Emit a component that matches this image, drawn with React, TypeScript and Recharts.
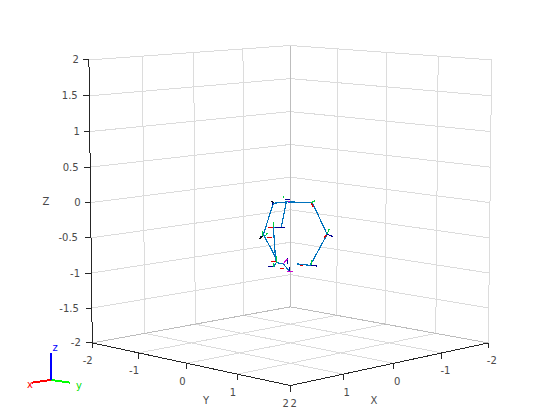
import { ComposedChart, Line, XAxis, YAxis, ReferenceDot } from 'recharts';

// axis ticks
const xTicks = [-2, -1, 0, 1, 2];
const yTicks = [-2, -1, 0, 1, 2];
const zTicks = [-2, -1.5, -1, -0.5, 0, 0.5, 1, 1.5, 2];

const xTickLabels = ['-2', '-1', '0', '1', '2'];
const yTickLabels = ['-2', '-1', '0', '1', '2'];
const zTickLabels = ['-2', '-1.5', '-1', '-0.5', '0', '0.5', '1', '1.5', '2'];

// skeleton chains, as [y, z] (x = -y)
const outerChain = [
  [0.07, -0.87], [0.2, -0.89], [0.37, -0.45], [0.22, 0], [-0.03, 0.01], [-0.17, -0.01],
  [-0.27, -0.45], [-0.15, -0.77],
];
const innerChain = [
  [-0.04, 0.01], [-0.07, -0.21], [-0.09, -0.35], [-0.17, -0.35], [-0.15, -0.76], [-0.14, -0.85],
  [-0.17, -0.92],
];
const tailChain = [[-0.14, -0.85], [-0.07, -0.87], [-0.01, -0.97]];

// little frames at every joint, as [y0, z0, y1, z1]
const redFrames = [
  [0.21, 0, 0.23, -0.06], [-0.17, -0.35, -0.22, -0.35], [-0.23, -0.5, -0.18, -0.5],
  [-0.19, -0.83, -0.14, -0.83], [-0.1, -0.93, -0.06, -0.93], [0.1, -0.89, 0.13, -0.89],
  [0.36, -0.46, 0.34, -0.5],
];
const greenFrames = [
  [-0.07, 0.1, -0.07, 0.06], [-0.18, 0.01, -0.17, -0.01], [0.21, 0, 0.25, 0.03],
  [0.37, -0.45, 0.39, -0.37], [0.21, -0.89, 0.21, -0.82], [-0.17, -0.35, -0.17, -0.28],
  [-0.28, -0.48, -0.28, -0.4], [-0.25, -0.47, -0.23, -0.43], [-0.14, -0.76, -0.14, -0.85],
  [-0.17, -0.85, -0.17, -0.92],
];
const navyFrames = [
  [-0.05, 0.04, 0, 0.04], [-0.18, 0.01, -0.18, -0.03], [0.37, -0.45, 0.43, -0.48],
  [0.21, -0.89, 0.27, -0.9], [-0.15, -0.35, -0.05, -0.35], [-0.3, -0.48, -0.27, -0.48],
  [-0.22, -0.91, -0.17, -0.91], [-0.03, -0.78, -0.03, -0.87], [-0.01, -0.92, -0.01, -0.97],
];
const blackFrames = [[-0.31, -0.52, -0.28, -0.47], [-0.19, 0.02, -0.16, 0.0]];
const magentaFrames = [
  [-0.03, -0.98, 0.03, -0.98], [-0.07, -0.87, -0.03, -0.8], [-0.02, 0.01, 0, 0.01],
];

// view: slight perspective, seen from the x=2, y=2 corner
const SIN_E = 0.138;
const COS_E = 0.99;
const DIST = 33.2;
const FOCAL = 2344;
const Z_STRETCH = 1.012;
const CX = 290.3;
const CY = 202.6;

type P3 = [number, number, number];

const project = ([x, y, z]: P3) => {
  const hh = (y - x) / Math.SQRT2;
  const dd = (x + y) / Math.SQRT2;
  const up = z * COS_E * Z_STRETCH - dd * SIN_E;
  const q = dd * COS_E + z * SIN_E;
  const s = FOCAL / (DIST - q);
  return { u: CX + s * hh, v: CY - s * up };
};

const projectTriad = ([x, y, z]: P3) => {
  const hh = (y - x) / Math.SQRT2;
  const dd = (x + y) / Math.SQRT2;
  return { u: 51 + 27 * hh, v: 380 - 27 * (z * COS_E - dd * SIN_E) };
};

const seg = (a: P3, b: P3) => [project(a), project(b)];
const chain3 = (pts: number[][]) => pts.map(([y, z]) => project([-y, y, z]));
const frame3 = ([y0, z0, y1, z1]: number[]) => chain3([[y0, z0], [y1, z1]]);

const inner = (t: number) => t > -2 && t < 2;

const gridSegs = [
  ...zTicks.filter(inner).flatMap((z) => [seg([2, -2, z], [-2, -2, z]), seg([-2, -2, z], [-2, 2, z])]),
  seg([2, -2, 2], [-2, -2, 2]),
  seg([-2, -2, 2], [-2, 2, 2]),
  ...xTicks.filter(inner).map((x) => seg([x, -2, -2], [x, -2, 2])),
  ...yTicks.filter(inner).map((y) => seg([-2, y, -2], [-2, y, 2])),
  seg([-2, 2, -2], [-2, 2, 2]),
  ...xTicks.filter(inner).map((x) => seg([x, -2, -2], [x, 2, -2])),
  ...yTicks.filter(inner).map((y) => seg([-2, y, -2], [2, y, -2])),
];

const backSegs = [
  seg([-2, -2, -2], [-2, -2, 2]),
  seg([2, -2, -2], [-2, -2, -2]),
  seg([-2, -2, -2], [-2, 2, -2]),
];

const axisSegs = [
  seg([2, -2, -2], [2, -2, 2]),
  seg([2, -2, -2], [2, 2, -2]),
  seg([2, 2, -2], [-2, 2, -2]),
  ...zTicks.map((z) => seg([2, -2, z], [2.06, -2.06, z])),
  ...yTicks.map((y) => seg([2, y, -2], [2, y, -2.08])),
  ...xTicks.map((x) => seg([x, 2, -2], [x, 2, -2.08])),
];

const triad = [
  { color: '#ff0000', tip: [1, 0, 0] as P3 },
  { color: '#00ff00', tip: [0, 1, 0] as P3 },
  { color: '#0000ff', tip: [0, 0, 1] as P3 },
];

const textStyle = { fontFamily: 'DejaVu Sans', fontSize: 10 };

function Txt({ x, y, text, color = '#4a4a4a' }: { x: number; y: number; text: string; color?: string }) {
  return (
    <ReferenceDot
      x={x}
      y={y}
      r={0}
      stroke="none"
      fill="none"
      label={{ value: text, position: 'center', fill: color, ...textStyle }}
    />
  );
}

const crisp = { shapeRendering: 'crispEdges' } as const;

function segLine(key: string, data: { u: number; v: number }[], color: string, width = 1) {
  return (
    <Line
      key={key}
      data={data}
      dataKey="v"
      stroke={color}
      strokeWidth={width}
      dot={false}
      activeDot={false}
      legendType="none"
      isAnimationActive={false}
      {...crisp}
    />
  );
}

export default function App() {
  return (
    <div style={{ position: 'absolute', left: 0, top: 0, width: 560, height: 420, background: '#fff' }}>
      <ComposedChart width={560} height={420} margin={{ top: 0, right: 0, bottom: 0, left: 0 }}>
        <XAxis dataKey="u" type="number" domain={[0, 560]} hide allowDataOverflow />
        <YAxis type="number" domain={[0, 420]} reversed hide allowDataOverflow />

        {gridSegs.map((s, i) => segLine(`grid${i}`, s, '#dcdcdc'))}
        {backSegs.map((s, i) => segLine(`back${i}`, s, '#bdbdbd'))}
        {axisSegs.map((s, i) => segLine(`axis${i}`, s, '#262626'))}

        {segLine('outer', chain3(outerChain), '#0072bd', 1.2)}
        {segLine('inner', chain3(innerChain), '#0072bd', 1.2)}
        {segLine('tail', chain3(tailChain), '#0072bd', 1.2)}

        {redFrames.map((f, i) => segLine(`red${i}`, frame3(f), '#e00000', 1.2))}
        {greenFrames.map((f, i) => segLine(`green${i}`, frame3(f), '#00d040', 1.2))}
        {navyFrames.map((f, i) => segLine(`navy${i}`, frame3(f), '#000090', 1.2))}
        {blackFrames.map((f, i) => segLine(`black${i}`, frame3(f), '#101010', 1.2))}
        {magentaFrames.map((f, i) => segLine(`mag${i}`, frame3(f), '#d000d0', 1.2))}

        {triad.map((t, i) => segLine(`triad${i}`, [projectTriad([0, 0, 0]), projectTriad(t.tip)], t.color, 2))}

        {zTicks.map((z, i) => {
          const p = project([2, -2, z]);
          return <Txt key={`zl${i}`} x={p.u - 10 - zTickLabels[i].length * 3.2} y={p.v} text={zTickLabels[i]} />;
        })}
        {yTicks.map((y, i) => {
          const p = project([2, y, -2]);
          return <Txt key={`yl${i}`} x={p.u - 4.5} y={p.v + 18} text={yTickLabels[i]} />;
        })}
        {xTicks.map((x, i) => {
          const p = project([x, 2, -2]);
          return <Txt key={`xl${i}`} x={p.u + 3.5} y={p.v + 18} text={xTickLabels[i]} />;
        })}
        <Txt x={46} y={201} text="Z" />
        <Txt x={206} y={400} text="Y" />
        <Txt x={374} y={400} text="X" />
        <Txt x={30} y={384} text="x" color="#ff0000" />
        <Txt x={79} y={385} text="y" color="#00e000" />
        <Txt x={55} y={347} text="z" color="#0000ff" />
      </ComposedChart>
    </div>
  );
}
